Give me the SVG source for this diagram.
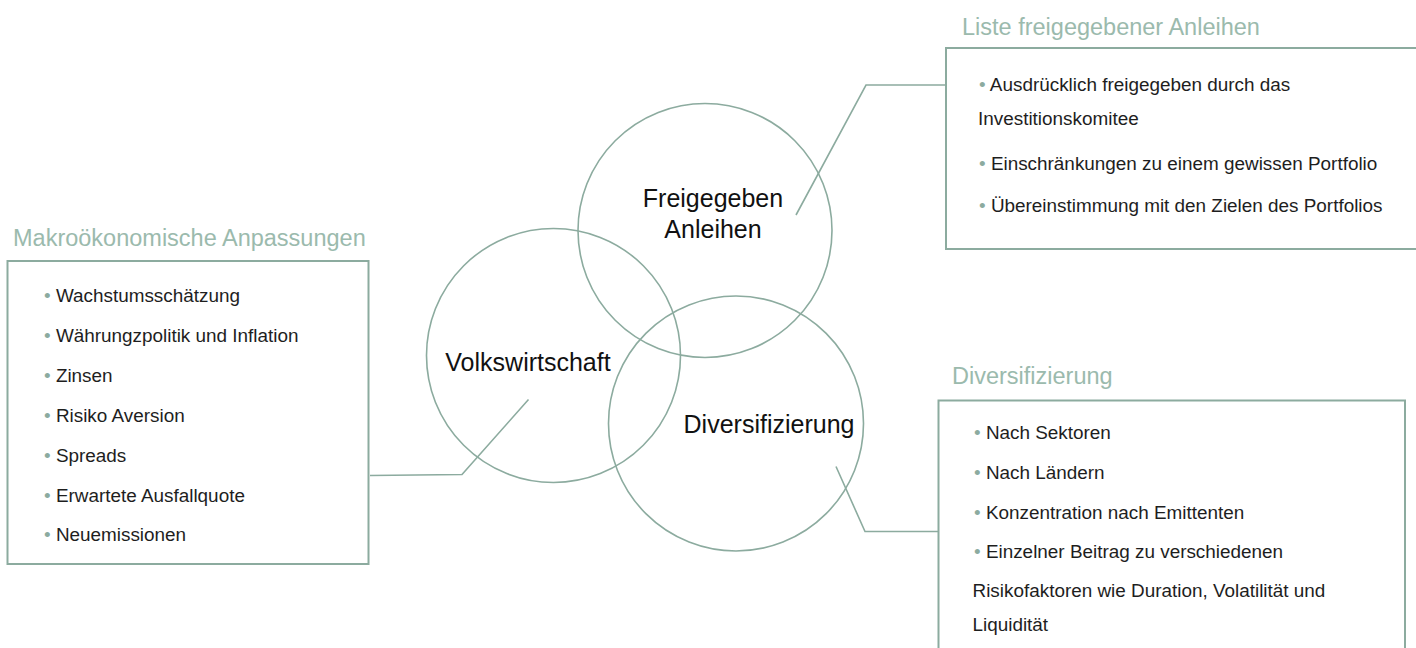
<svg xmlns="http://www.w3.org/2000/svg" width="1416" height="648" viewBox="0 0 1416 648">
<style>
.bg{fill:#ffffff}
.ln{fill:none;stroke:#8cab9f;stroke-width:1.6}
.box{fill:none;stroke:#8cab9f;stroke-width:2}
.ttl{font-family:"Liberation Sans",Arial,sans-serif;font-size:23.5px;fill:#9bbaad}
.itm{font-family:"Liberation Sans",Arial,sans-serif;font-size:18.9px;fill:#1e1e1e}
.bul{fill:#8cab9f}
.lbl{font-family:"Liberation Sans",Arial,sans-serif;font-size:25px;fill:#111111;text-anchor:middle}
</style>
<rect class="bg" x="0" y="0" width="1416" height="648"/>
<g id="connectors">
<polyline class="ln" points="370,475.5 462,474.5 528.5,399.5"/>
<polyline class="ln" points="796,215 866,85 946,85"/>
<polyline class="ln" points="836,466.5 865,531.5 938.5,531.5"/>
</g>
<g id="circle-freigegeben">
<circle class="ln" cx="705" cy="230.5" r="127"/>
<text class="lbl" x="713" y="207">Freigegeben</text>
<text class="lbl" x="713" y="238">Anleihen</text>
</g>
<g id="circle-volkswirtschaft">
<circle class="ln" cx="553.5" cy="355.5" r="127"/>
<text class="lbl" x="528" y="371">Volkswirtschaft</text>
</g>
<g id="circle-diversifizierung">
<circle class="ln" cx="736" cy="423.5" r="127.5"/>
<text class="lbl" x="769" y="433">Diversifizierung</text>
</g>
<g id="box-makro">
<text class="ttl" x="13" y="246">Makroökonomische Anpassungen</text>
<rect class="box" x="7.5" y="261" width="361" height="303"/>
<text class="itm" x="44" y="302"><tspan class="bul">• </tspan>Wachstumsschätzung</text>
<text class="itm" x="44" y="342"><tspan class="bul">• </tspan>Währungzpolitik und Inflation</text>
<text class="itm" x="44" y="382"><tspan class="bul">• </tspan>Zinsen</text>
<text class="itm" x="44" y="422"><tspan class="bul">• </tspan>Risiko Aversion</text>
<text class="itm" x="44" y="461.5"><tspan class="bul">• </tspan>Spreads</text>
<text class="itm" x="44" y="501.5"><tspan class="bul">• </tspan>Erwartete Ausfallquote</text>
<text class="itm" x="44" y="541"><tspan class="bul">• </tspan>Neuemissionen</text>
</g>
<g id="box-liste">
<text class="ttl" x="962" y="35">Liste freigegebener Anleihen</text>
<rect class="box" x="946" y="48" width="480" height="201"/>
<text class="itm" x="979" y="91"><tspan class="bul">• </tspan>Ausdrücklich freigegeben durch das</text>
<text class="itm" x="978" y="125">Investitionskomitee</text>
<text class="itm" x="979" y="170"><tspan class="bul">• </tspan>Einschränkungen zu einem gewissen Portfolio</text>
<text class="itm" x="979" y="212"><tspan class="bul">• </tspan>Übereinstimmung mit den Zielen des Portfolios</text>
</g>
<g id="box-diversifizierung">
<text class="ttl" x="952" y="384">Diversifizierung</text>
<rect class="box" x="938.5" y="400.5" width="466.5" height="300"/>
<text class="itm" x="974" y="439"><tspan class="bul">• </tspan>Nach Sektoren</text>
<text class="itm" x="974" y="479"><tspan class="bul">• </tspan>Nach Ländern</text>
<text class="itm" x="974" y="519"><tspan class="bul">• </tspan>Konzentration nach Emittenten</text>
<text class="itm" x="974" y="558"><tspan class="bul">• </tspan>Einzelner Beitrag zu verschiedenen</text>
<text class="itm" x="972.5" y="597">Risikofaktoren wie Duration, Volatilität und</text>
<text class="itm" x="972.5" y="631">Liquidität</text>
</g>
</svg>
